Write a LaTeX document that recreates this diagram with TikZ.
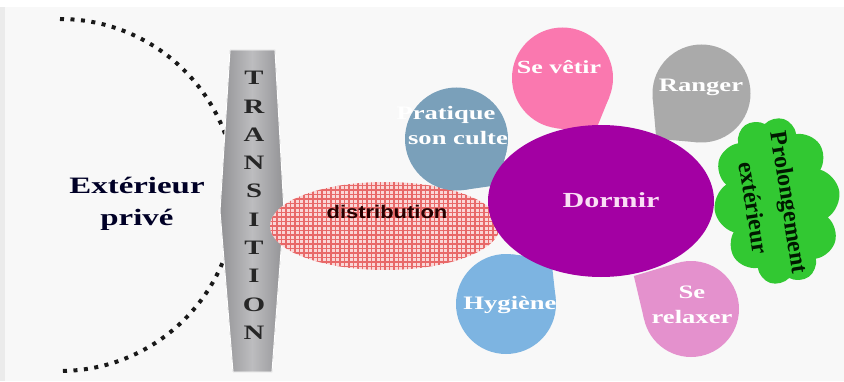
\documentclass[tikz,border=0pt]{standalone}
\usepackage{fontspec}
\newfontfamily\wserif[FakeStretch=1.4]{Liberation Serif}
\newfontfamily\wsans[FakeStretch=1.2]{Liberation Sans}
\newfontfamily\nserif{Liberation Serif}
\usetikzlibrary{positioning,shapes.geometric,shapes.symbols}

\definecolor{bgcol}{RGB}{248,248,248}
\definecolor{barcol}{RGB}{172,172,175}
\definecolor{gridred}{RGB}{232,105,105}
\definecolor{gridbg}{RGB}{250,215,215}
\definecolor{dormcol}{RGB}{163,0,163}
\definecolor{dormtxt}{RGB}{250,222,245}
\definecolor{vetircol}{RGB}{250,120,175}
\definecolor{rangcol}{RGB}{170,170,170}
\definecolor{cultecol}{RGB}{122,160,186}
\definecolor{hygcol}{RGB}{125,180,225}
\definecolor{relaxcol}{RGB}{228,145,205}
\definecolor{cloudcol}{RGB}{50,200,50}

\tikzset{
  dotarc/.style={line width=4pt,dash pattern=on 4pt off 6.5pt,black!90},
  transbar/.style={left color=barcol!85!black,right color=barcol!85!black,
    middle color=barcol!80!white,draw=white,line width=1pt},
  barletter/.style={font=\wserif\bfseries\fontsize{20.5}{20.5}\selectfont,
    text=black!85,inner sep=0pt},
  distell/.style={ellipse,minimum width=230pt,minimum height=88pt,
    fill=gridbg,inner sep=0pt,
    path picture={\draw[gridred,line width=1.3pt,step=4.5pt]
      (path picture bounding box.south west) grid
      (path picture bounding box.north east);}},
  disttxt/.style={font=\wsans\bfseries\fontsize{18.3}{20}\selectfont,
    text=black!85!red,inner sep=0pt},
  bubble/.style={circle,fill=#1,minimum size=100pt,inner sep=0pt,
    outer sep=0pt},
  bubtxt/.style={font=\wserif\bfseries\fontsize{19}{25}\selectfont,
    text=white,align=center,inner sep=0pt},
  dormell/.style={ellipse,fill=dormcol,minimum width=226pt,
    minimum height=152pt,inner sep=0pt},
  dormlbl/.style={font=\wserif\bfseries\fontsize{21.5}{24}\selectfont,
    text=dormtxt,inner sep=0pt},
  cloudbox/.style={cloud,cloud puffs=10,cloud puff arc=130,
    cloud ignores aspect,fill=cloudcol,minimum width=168pt,
    minimum height=126pt,inner sep=0pt},
  cloudtxt/.style={font=\nserif\bfseries\fontsize{24}{36}\selectfont,
    text=black!90!green,align=center,inner sep=0pt},
  exttxt/.style={font=\wserif\bfseries\fontsize{23.5}{32}\selectfont,
    text=black!85!blue,align=center,inner sep=0pt},
}

\begin{document}
\begin{tikzpicture}[x=1pt,y=1pt]
  \useasboundingbox (0,0) rectangle (844,381);
  \clip (0,0) rectangle (844,381);
  \fill[bgcol] (0,0) rectangle (844,381);
  \fill[white] (0,374) rectangle (844,381);
  \fill[black!8] (0,0) rectangle (5,374);

  % dotted edge of the private outside
  \draw[dotarc] (60,362) arc[start angle=90,end angle=-90,radius=176pt];
  \node[exttxt] (ext) at (137,177) {Extérieur\\privé};

  % transition bar
  \fill[transbar] (230,331) -- (275,331) -- (284,170) -- (272,9)
    -- (233,9) -- (220,170) -- cycle;
  \foreach \ch [count=\i] in {T,R,A,N,S,I,T,I,O,N}
    \node[barletter] (tr\i) at (254,{303-28.3*(\i-1)}) {\ch};

  % distribution
  \node[distell] (distr) at (385,155) {};
  \node[disttxt] (distrtxt) at (387,169) {distribution};

  % bubbles round the room
  \node[bubble=hygcol] (hyg) at (506,77) {};
  \fill[hygcol,shift={(hyg.center)}] (82.6:50pt) -- (45:64pt) -- (7.4:50pt)
    -- (0,0) -- cycle;
  \node[bubtxt] (hygtxt) at (510,76) {Hygiène};

  \node[bubble=cultecol,minimum size=103pt] (culte) at (456.5,242) {};
  \fill[cultecol,shift={(culte.center)}] (-13.4:51.5pt) -- (-48:62pt)
    -- (-82.6:51.5pt) -- (0,0) -- cycle;
  \node[bubtxt] (cultetxt) at (458,255.5) {Pratique\hspace*{24pt}\\son culte};

  \node[bubble=vetircol,minimum size=101pt] (vetir) at (562.5,303) {};
  \fill[vetircol,shift={(vetir.center)}] (-22:50.5pt) -- (-60:64pt)
    -- (-98:50.5pt) -- (0,0) -- cycle;
  \node[bubtxt,font=\wserif\bfseries\fontsize{18.5}{25}\selectfont]
    (vetirtxt) at (559,314) {Se vêtir};

  \node[bubble=rangcol,minimum size=98pt] (rang) at (701.5,287.5) {};
  \fill[rangcol,shift={(rang.center)}] (-95:49pt) -- (-135:64pt)
    -- (-175:49pt) -- (0,0) -- cycle;
  \node[bubtxt] (rangtxt) at (701,294) {Ranger};

  \node[bubble=relaxcol,minimum size=96pt] (relax) at (691,72) {};
  \fill[relaxcol,shift={(relax.center)}] (106.7:48pt) -- (150:66pt)
    -- (193.3:48pt) -- (0,0) -- cycle;
  \node[bubtxt] (relaxtxt) at (692,76.5) {Se\\relaxer};

  % sleeping
  \node[dormell] (dorm) at (601,180) {};
  \node[dormlbl] (dormtxt) at (611,181) {Dormir};

  % outside extension
  \node[cloudbox,rotate=-81] (prol) at (777,180) {};
  \node[cloudtxt,rotate=-81] (proltxt) at (772,176) {Prolongement\\extérieur};
\end{tikzpicture}
\end{document}
